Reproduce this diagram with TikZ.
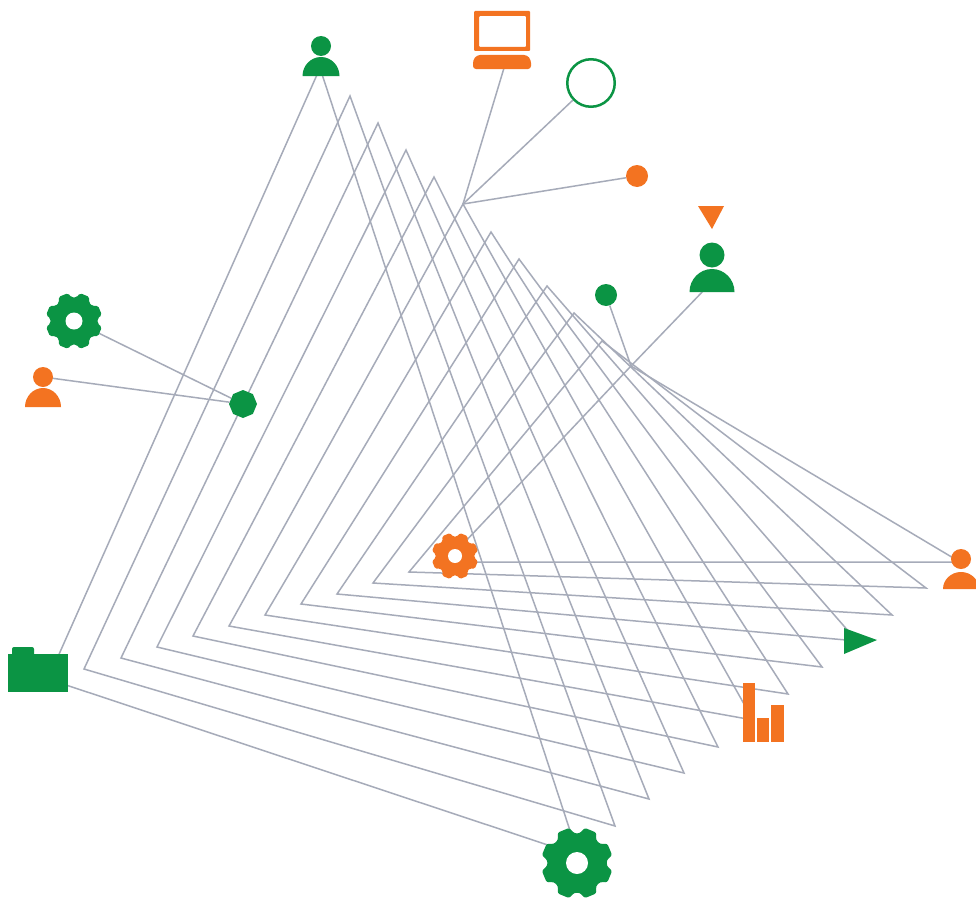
\documentclass[tikz,border=0pt]{standalone}
\usetikzlibrary{shapes.geometric}
\definecolor{grn}{HTML}{0B9444}
\definecolor{org}{HTML}{F37321}
\definecolor{lnk}{HTML}{A6ABB9}
\tikzset{
  link/.style={draw=lnk,line width=1.5pt,line join=miter},
  spot/.style={circle,inner sep=0pt,minimum size=22pt,fill=#1},
}
% gear: cx cy R hole colour
\newcommand{\gearicon}[5]{%
  \fill[#5,rounded corners=#3*0.06pt,shift={(#1,#2)}]
    (2.5:#3*0.83)
    \foreach \a in {22.5,67.5,...,360}{
      -- ({\a-17}:{#3*0.83}) -- ({\a-10}:#3) -- ({\a+10}:#3) -- ({\a+17}:{#3*0.83})
    } -- cycle;
  \fill[white,shift={(#1,#2)}] (0,0) circle[radius=#4pt];
}
% person: cx head-cy head-r half-width body-top body-bottom colour
\newcommand{\personicon}[7]{%
  \fill[#7] (#1,#2) circle[radius=#3pt];
  \fill[#7] ({#1-#4},#6) .. controls ({#1-#4},{#6-(#6-#5)*0.55}) and ({#1-#4*0.55},#5) .. (#1,#5)
     .. controls ({#1+#4*0.55},#5) and ({#1+#4},{#6-(#6-#5)*0.55}) .. ({#1+#4},#6) -- cycle;
}
\begin{document}
\begin{tikzpicture}[x=1pt,y=-1pt]
\path[use as bounding box,clip] (0,0) rectangle (976,899);
\fill[white] (0,0) rectangle (976,899);

% triangle corners
\coordinate (A1) at (320,68);  \coordinate (L1) at (48,679);  \coordinate (R1) at (578,855);
\coordinate (A2) at (350,96);  \coordinate (L2) at (84,669);  \coordinate (R2) at (615,826);
\coordinate (A3) at (378,123); \coordinate (L3) at (121,658); \coordinate (R3) at (649,799);
\coordinate (A4) at (406,150); \coordinate (L4) at (157,647); \coordinate (R4) at (684,773);
\coordinate (A5) at (434,177); \coordinate (L5) at (193,636); \coordinate (R5) at (718,747);
\coordinate (A6) at (463,204); \coordinate (L6) at (229,626); \coordinate (R6) at (753,720);
\coordinate (A7) at (491,232); \coordinate (L7) at (265,615); \coordinate (R7) at (788,694);
\coordinate (A8) at (519,259); \coordinate (L8) at (301,604); \coordinate (R8) at (822,667);
\coordinate (A9) at (547,286); \coordinate (L9) at (337,594); \coordinate (R9) at (857,641);
\coordinate (A10) at (574,313);\coordinate (L10) at (373,583);\coordinate (R10) at (892,615);
\coordinate (A11) at (602,341);\coordinate (L11) at (409,572);\coordinate (R11) at (926,588);
\coordinate (A12) at (631,366);\coordinate (L12) at (446,562);\coordinate (R12) at (960,562);

\foreach \i in {1,...,12}{
  \draw[link] (A\i) -- (L\i) -- (R\i) -- cycle;
}

% free nodes
\node[circle,draw=grn,line width=2.5pt,fill=white,inner sep=0pt,minimum size=47.5pt] (ring) at (591,83) {};
\node[spot=org] (odot) at (637,176) {};
\node[spot=grn] (gdot) at (606,295) {};
\node[regular polygon,regular polygon sides=8,shape border rotate=22.5,fill=grn,inner sep=0pt,minimum size=28pt] (octa) at (243,404) {};
\coordinate (laptop) at (504,68);
\coordinate (bigperson) at (706,288);
\coordinate (gearleft) at (74,321);
\coordinate (headleft) at (43,377);

% connectors
\draw[link] (A6) -- (laptop);
\draw[link] (A6) -- (ring);
\draw[link] (A6) -- (odot);
\draw[link] (A12) -- (bigperson);
\draw[link] (A12) -- (gdot);
\draw[link] (octa) -- (gearleft);
\draw[link] (octa) -- (headleft);

% folder
\fill[grn] (8,654) rectangle (68,692);
\fill[grn,rounded corners=2pt] (12,656) -- (12,647) -- (34,647) -- (34,656) -- cycle;

% laptop
\fill[org,even odd rule,rounded corners=1pt] (474,11) rectangle (530,51) (479,16) rectangle (526,47);
\fill[org,rounded corners=3pt] (473,69) -- (473,60) -- (477,55) -- (527,55) -- (531,60) -- (531,69) -- cycle;

% gears
\gearicon{74}{321}{28.5}{8.5}{grn}
\gearicon{455}{556}{23.5}{7}{org}
\gearicon{577}{863}{36}{11}{grn}

% people
\personicon{321}{46}{10}{18.5}{57}{76}{grn}
\personicon{712}{255}{12.5}{22.5}{269}{292}{grn}
\personicon{43}{377}{10}{18}{388}{407}{org}
\personicon{961}{559}{10}{18}{572}{589}{org}

% markers
\fill[org] (698,206) -- (724,206) -- (712,229) -- cycle;
\fill[grn] (844,628) -- (877,640) -- (844,654) -- cycle;

% bar chart
\fill[org] (743,683) rectangle (755,742);
\fill[org] (757,718) rectangle (769,742);
\fill[org] (771,705) rectangle (784,742);
\end{tikzpicture}
\end{document}
